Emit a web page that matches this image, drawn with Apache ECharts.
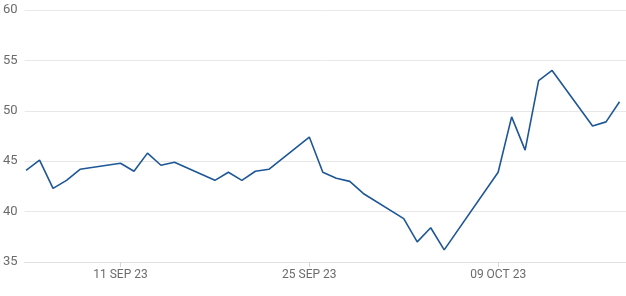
<!DOCTYPE html>
<html>
<head>
<meta charset="utf-8">
<script src="https://cdn.jsdelivr.net/npm/echarts@6/dist/echarts.min.js"></script>
<style>
html,body{margin:0;padding:0;background:#fff;}
#chart{width:626px;height:296px;}
</style>
</head>
<body>
<div id="chart"></div>
<script>
// Dates (trading days) and values
const dates = [
  '2023-09-04','2023-09-05','2023-09-06','2023-09-07','2023-09-08',
  '2023-09-11','2023-09-12','2023-09-13','2023-09-14','2023-09-15',
  '2023-09-18','2023-09-19','2023-09-20','2023-09-21','2023-09-22',
  '2023-09-25','2023-09-26','2023-09-27','2023-09-28','2023-09-29',
  '2023-10-02','2023-10-03','2023-10-04','2023-10-05',
  '2023-10-09','2023-10-10','2023-10-11','2023-10-12','2023-10-13',
  '2023-10-16','2023-10-17','2023-10-18'
];
const values = [
  44.1, 45.1, 42.3, 43.1, 44.2,
  44.8, 44.0, 45.8, 44.6, 44.9,
  43.1, 43.9, 43.1, 44.0, 44.2,
  47.4, 43.9, 43.3, 43.0, 41.8,
  39.3, 37.0, 38.4, 36.2,
  43.9, 49.4, 46.1, 53.0, 54.0,
  48.5, 48.9, 50.9
];
const tickDates = ['2023-09-11','2023-09-25','2023-10-09'];
const tickLabels = ['11 SEP 23','25 SEP 23','09 OCT 23'];
const yTicks = [35, 40, 45, 50, 55, 60];

function ts(s){ const p = s.split('-').map(Number); return Date.UTC(p[0], p[1]-1, p[2]); }
const H = 3600000;
const tickTs = tickDates.map(ts);

const chart = echarts.init(document.getElementById('chart'), null, {renderer:'canvas'});
chart.setOption({
  animation:false,
  grid:{left:24, right:0, top:10, bottom:34, containLabel:false},
  xAxis:{
    type:'value',
    min: ts(dates[0]) - 2.6*H,
    max: ts(dates[dates.length-1]) + 11.5*H,
    axisLine:{show:true, lineStyle:{color:'#e0e0e0', width:1}},
    axisTick:{show:true, customValues: tickTs, length:5, lineStyle:{color:'#d6d6d6'}},
    axisLabel:{
      customValues: tickTs,
      margin:7,
      color:'#6b6b6b',
      fontSize:12,
      fontFamily:'Roboto, sans-serif',
      formatter: function(v){ const i = tickTs.indexOf(v); return i >= 0 ? tickLabels[i] : ''; }
    },
    splitLine:{show:false}
  },
  yAxis:{
    type:'value',
    min: yTicks[0], max: yTicks[yTicks.length-1], interval:5,
    axisLine:{show:false},
    axisTick:{show:false},
    axisLabel:{margin:7, color:'#6b6b6b', fontSize:13, fontFamily:'Roboto, sans-serif'},
    splitLine:{lineStyle:{color:'#e8e8e8', width:1}}
  },
  series:[{
    type:'line',
    data: dates.map((d,i)=>[ts(d), values[i]]),
    showSymbol:false,
    symbol:'none',
    lineStyle:{color:'#1d5796', width:1.6},
    itemStyle:{color:'#1d5796'}
  }]
});
</script>
</body>
</html>
